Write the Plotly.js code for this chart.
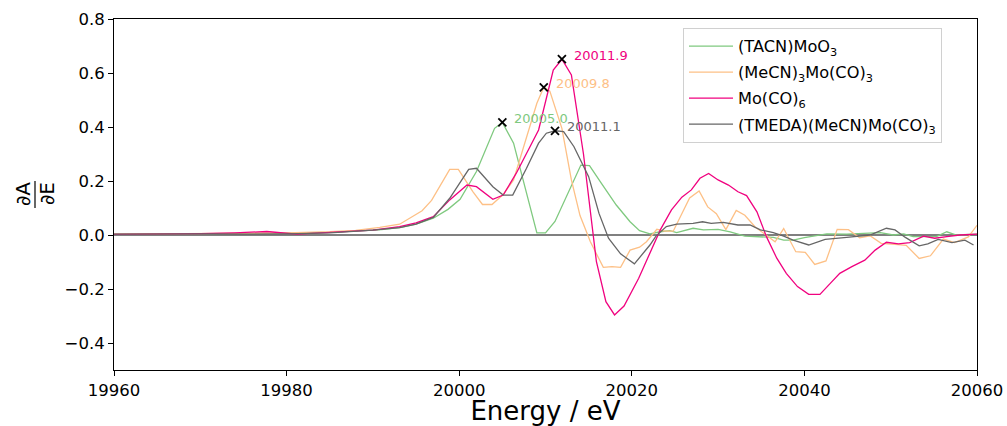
<!DOCTYPE html>
<html>
<head>
<meta charset="utf-8">
<script src="https://cdn.plot.ly/plotly-3.0.1.min.js"></script>
<style>html,body{margin:0;padding:0;background:#fff;}#chart{width:1007px;height:426px;}</style>
</head>
<body>
<div id="chart"></div>
<script>
// ---- data ----
const seriesNames = ["(TACN)MoO<sub>3</sub>", "(MeCN)<sub>3</sub>Mo(CO)<sub>3</sub>", "Mo(CO)<sub>6</sub>", "(TMEDA)(MeCN)Mo(CO)<sub>3</sub>"];
const seriesColors = ["#7fc97f", "#fdc086", "#f0027f", "#666666"];

const tacnE = [19960,19965,19970,19975,19980,19985,19988,19991,19993.1,19995,19997,19998.7,20000.1,20002.0,20004.1,20005.0,20006.3,20009.0,20010.0,20011.1,20014.1,20015.1,20016.5,20018.2,20019.8,20020.9,20022.1,20023.3,20024.4,20025.2,20027.1,20028.3,20030.0,20031.4,20033.1,20034.9,20036.4,20037.6,20038.7,20040.0,20042.6,20044.9,20047.4,20048.8,20050.3,20051.5,20052.6,20055.3,20056.5,20057.6,20060];
const tacnV = [0.003,0.004,0.005,0.005,0.007,0.01,0.015,0.02,0.027,0.04,0.062,0.095,0.132,0.235,0.395,0.417,0.34,0.008,0.008,0.05,0.259,0.257,0.19,0.111,0.049,0.016,0.004,0.012,0.016,0.009,0.025,0.019,0.021,0.012,-0.004,-0.006,-0.009,-0.019,-0.019,-0.01,0.004,0.003,0.006,0.009,0.0,0.004,-0.006,-0.006,0.012,0.0,0.003];

const mecnE = [19960,19965,19970,19975,19980,19985,19988,19990.8,19993.1,19995.7,19996.8,19998.9,19999.9,20001.6,20002.7,20003.8,20005.1,20006.3,20007.6,20009.0,20009.8,20010.5,20011.9,20013.0,20014.0,20015.2,20016.7,20017.7,20018.7,20019.8,20020.9,20021.7,20022.9,20023.8,20024.8,20026.7,20027.8,20028.8,20029.8,20030.9,20032.1,20033.1,20034.3,20035.6,20036.6,20037.6,20039.0,20040.1,20041.2,20042.5,20043.8,20045.1,20046.4,20047.6,20048.9,20050.5,20051.8,20053.3,20054.6,20056.1,20057.4,20059.0,20060];
const mecnV = [0.003,0.004,0.005,0.006,0.008,0.012,0.017,0.028,0.04,0.09,0.128,0.243,0.243,0.16,0.113,0.113,0.15,0.204,0.34,0.488,0.547,0.533,0.395,0.204,0.072,-0.025,-0.12,-0.117,-0.12,-0.056,-0.045,-0.025,0.021,0.014,0.014,0.137,0.163,0.104,0.079,0.02,0.091,0.073,0.03,-0.003,-0.025,0.024,-0.062,-0.064,-0.109,-0.096,0.021,0.02,-0.01,-0.003,-0.031,-0.035,-0.038,-0.087,-0.077,-0.015,-0.028,-0.007,0.036];

const mocoE = [19960,19965,19970,19974,19977.7,19981.2,19985,19988,19990,19993.1,19995,19997,19998.9,20000.9,20002.0,20003.9,20005.1,20006.6,20008.0,20009.2,20010.9,20011.9,20013.0,20014.4,20015.9,20017.0,20018.0,20019.1,20020.8,20022.1,20023.3,20024.6,20025.8,20026.9,20027.9,20028.9,20030.0,20031.2,20032.3,20033.3,20034.5,20035.6,20036.8,20037.9,20039.2,20040.5,20041.8,20043.0,20044.1,20045.5,20047.0,20048.2,20049.5,20050.9,20052.2,20053.8,20055.1,20056.5,20058.0,20060];
const mocoV = [0.002,0.003,0.005,0.008,0.013,0.003,0.01,0.015,0.018,0.031,0.045,0.068,0.13,0.185,0.179,0.132,0.148,0.228,0.315,0.389,0.611,0.651,0.593,0.3,-0.099,-0.247,-0.296,-0.263,-0.16,-0.07,0.019,0.093,0.14,0.167,0.21,0.228,0.204,0.185,0.16,0.146,0.086,-0.006,-0.086,-0.142,-0.191,-0.22,-0.22,-0.179,-0.142,-0.117,-0.093,-0.056,-0.027,-0.033,-0.028,-0.004,-0.012,-0.006,0.0,0.003];

const tmedaE = [19960,19965,19970,19975,19980,19985,19988,19990,19993.1,19995,19997,19998.9,20001.1,20002.0,20003.9,20005.1,20006.2,20007.8,20009.2,20010.1,20011.1,20012.1,20013.3,20014.4,20015.0,20016.2,20017.3,20018.7,20020.3,20022.1,20022.8,20024.0,20025.2,20027.1,20028.2,20029.2,20030.6,20032.3,20033.7,20034.9,20036.4,20037.6,20038.7,20040.5,20042.4,20044.9,20047.6,20049.5,20050.5,20051.7,20053.3,20054.3,20055.5,20057.1,20058.6,20059.6];
const tmedaV = [0.003,0.004,0.004,0.003,0.004,0.008,0.013,0.018,0.027,0.04,0.065,0.136,0.243,0.247,0.179,0.148,0.148,0.247,0.34,0.377,0.386,0.383,0.327,0.253,0.216,0.08,-0.012,-0.07,-0.107,-0.037,-0.004,0.031,0.04,0.043,0.049,0.043,0.047,0.037,0.037,0.019,0.009,-0.004,-0.019,-0.037,-0.016,-0.009,0.0,0.025,0.019,-0.009,-0.04,-0.033,-0.016,-0.028,-0.019,-0.037];

const peakE = [20005.0, 20009.8, 20011.9, 20011.1];
const peakV = [0.417, 0.547, 0.651, 0.386];

const xTicks = [19960, 19980, 20000, 20020, 20040, 20060];
const yTicks = [-0.4, -0.2, 0.0, 0.2, 0.4, 0.6, 0.8];

// ---- build figure ----
const FONT = "DejaVu Sans, sans-serif";
const xs = [tacnE, mecnE, mocoE, tmedaE];
const ys = [tacnV, mecnV, mocoV, tmedaV];

const traces = xs.map((x, i) => ({
  type: "scatter", mode: "lines", x: x, y: ys[i],
  name: seriesNames[i], legendgroup: "g" + i,
  line: {color: seriesColors[i], width: 1.3},
  hoverinfo: "skip"
}));

traces.push({
  type: "scatter", mode: "markers", x: peakE, y: peakV, showlegend: false,
  marker: {symbol: "x-thin", size: 8, line: {color: "#000", width: 1.8}, color: "#000"},
  hoverinfo: "skip"
});

const annotations = peakE.map((e, i) => ({
  x: e, y: peakV[i], xref: "x", yref: "y",
  text: e.toFixed(1), showarrow: false,
  xanchor: "left", yanchor: "middle", xshift: 10, yshift: 4,
  font: {family: FONT, size: 13, color: seriesColors[i]}
}));

// y-axis label as a fraction dA/dE
annotations.push({
  xref: "paper", yref: "paper", x: (23 - 114) / 863, y: 1 - (194 - 19) / 351,
  text: "∂A", showarrow: false, textangle: -90,
  xanchor: "center", yanchor: "middle",
  font: {family: FONT, size: 20, color: "#000"}
});
annotations.push({
  xref: "paper", yref: "paper", x: (47 - 114) / 863, y: 1 - (194 - 19) / 351,
  text: "∂E", showarrow: false, textangle: -90,
  xanchor: "center", yanchor: "middle",
  font: {family: FONT, size: 20, color: "#000"}
});

const layout = {
  width: 1007, height: 426,
  margin: {l: 114, r: 30, t: 19, b: 56, pad: 0},
  paper_bgcolor: "#fff", plot_bgcolor: "#fff",
  font: {family: FONT, size: 16.5, color: "#000"},
  showlegend: true,
  legend: {
    x: (683 - 114) / 863, y: 1 - (28 - 19) / 351, xanchor: "left", yanchor: "top",
    bgcolor: "rgba(255,255,255,0.9)", bordercolor: "#d0d0d0", borderwidth: 1,
    font: {family: FONT, size: 16.2, color: "#000"}, itemwidth: 44,
    tracegroupgap: 2, entrywidth: 228, entrywidthmode: "pixels"
  },
  xaxis: {
    range: [19960, 20060], tickvals: xTicks, ticktext: xTicks.map(String),
    showgrid: false, zeroline: false, showline: true, mirror: true,
    linecolor: "#000", linewidth: 1, ticks: "outside", ticklen: 5, tickcolor: "#000",
    tickfont: {family: FONT, size: 16.5},
    title: {text: "Energy / eV", font: {family: FONT, size: 26}, standoff: 5}
  },
  yaxis: {
    range: [-0.5, 0.8], tickvals: yTicks, ticktext: yTicks.map(v => (v < 0 ? "\u2212" : "") + Math.abs(v).toFixed(1)),
    showgrid: false, zeroline: true, zerolinecolor: "#808080", zerolinewidth: 1.5,
    showline: true, mirror: true,
    linecolor: "#000", linewidth: 1, ticks: "outside", ticklen: 5, tickcolor: "#000",
    tickfont: {family: FONT, size: 16.5}
  },
  shapes: [{
    type: "line", xref: "paper", yref: "paper",
    x0: (35 - 114) / 863, x1: (35 - 114) / 863,
    y0: 1 - (208 - 19) / 351, y1: 1 - (181 - 19) / 351,
    line: {color: "#000", width: 1.2}
  }],
  annotations: annotations
};

Plotly.newPlot("chart", traces, layout, {displayModeBar: false, staticPlot: true});
</script>
</body>
</html>
